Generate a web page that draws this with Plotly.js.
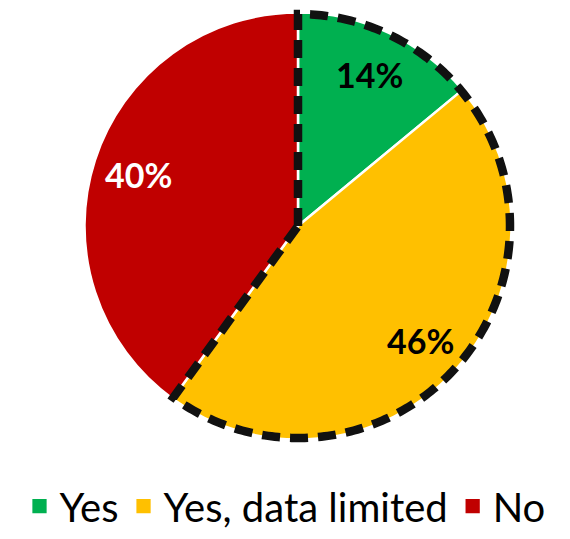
<!DOCTYPE html>
<html>
<head>
<meta charset="utf-8">
<script src="https://cdn.plot.ly/plotly-3.0.1.min.js"></script>
<style>html,body{margin:0;padding:0;background:#fff;}#chart{width:570px;height:539px;}</style>
</head>
<body>
<div id="chart"></div>
<script>
var categories = ["Yes", "Yes, data limited", "No"];
var values = [14, 46, 40];
var colors = ["#00B050", "#FFC000", "#C00000"];
var textColors = ["#000000", "#000000", "#ffffff"];
var labelText = ["14%", "46%", "40%"];
var outlined = [true, true, false];

var W = 570, H = 539;
var tcx = 298, tcy = 226, tR = 213.5;   // target pie centre / radius (px)
var legendY = 527;                        // target legend box centre (px)

var gd = document.getElementById("chart");

function gsz() { return gd._fullLayout._size; }
function toPX(X) { var g = gsz(); return (X - g.l) / g.w; }
function toPY(Y) { var g = gsz(); return (g.t + g.h - Y) / g.h; }
function domainFor(R) {
  return { x: [toPX(tcx - R), toPX(tcx + R)], y: [toPY(tcy + R), toPY(tcy - R)] };
}

var trace = {
  type: "pie",
  labels: categories,
  values: values,
  sort: false,
  direction: "clockwise",
  rotation: 0,
  marker: { colors: colors, line: { color: "#ffffff", width: 2.5 } },
  textinfo: "none",
  domain: { x: [0.15, 0.85], y: [0.2, 1] },
  hoverinfo: "none"
};

var layout = {
  width: W, height: H,
  margin: { l: 0, r: 0, t: 0, b: 0 },
  paper_bgcolor: "#ffffff",
  showlegend: true,
  legend: {
    orientation: "h", x: 0.5, xanchor: "center", y: (H - legendY) / H, yanchor: "middle",
    font: { family: "Lato", size: 40, color: "#000000" },
    itemwidth: 30, traceorder: "normal"
  }
};

function fitLegend() { return Plotly.relayout(gd, { "legend.y": toPY(legendY) }); }
function fitPie() { return Plotly.restyle(gd, { domain: [domainFor(tR)] }); }

Plotly.newPlot(gd, [trace], layout, { displayModeBar: false, staticPlot: true })
.then(fitLegend).then(fitLegend).then(fitLegend)
.then(fitPie).then(fitPie)
.then(function () {
  var cd0 = gd.calcdata[0][0];
  var cx = cd0.cx, cy = cd0.cy, R = cd0.r;
  var total = values.reduce(function (a, b) { return a + b; }, 0);
  function px(t, r) { return toPX(cx + r * Math.sin(t)); }
  function py(t, r) { return toPY(cy - r * Math.cos(t)); }

  // dashed outline around the outlined slices
  var frac = 0;
  for (var i = 0; i < values.length; i++) if (outlined[i]) frac += values[i] / total;
  var rr = R - 1.5;
  var endA = frac * 2 * Math.PI;
  var path = "M" + toPX(cx) + "," + toPY(cy);
  var n = 240;
  for (var k = 0; k <= n; k++) {
    var t = endA * k / n;
    path += " L" + px(t, rr) + "," + py(t, rr);
  }
  path += " Z";

  // slice labels at mid-angles
  var anns = [];
  var cum = 0;
  for (var j = 0; j < values.length; j++) {
    var mid = (cum + values[j] / 2) / total * 2 * Math.PI;
    cum += values[j];
    anns.push({
      xref: "paper", yref: "paper", x: px(mid, R * 0.785), y: py(mid, R * 0.785),
      xanchor: "center", yanchor: "middle", showarrow: false,
      text: labelText[j],
      font: { family: "Lato", size: 34, weight: "bold", color: textColors[j] }
    });
  }

  return Plotly.relayout(gd, {
    shapes: [{
      type: "path", xref: "paper", yref: "paper", path: path,
      line: { color: "#111111", width: 8.5, dash: "18px,10px" },
      fillcolor: "rgba(0,0,0,0)", layer: "above"
    }],
    annotations: anns
  });
}).then(function () {
  var syms = gd.querySelectorAll(".legendpoints path");
  for (var s = 0; s < syms.length; s++) {
    var tr = syms[s].getAttribute("transform") || "";
    syms[s].setAttribute("transform", tr + " scale(1.5)");
  }
});
</script>
</body>
</html>
